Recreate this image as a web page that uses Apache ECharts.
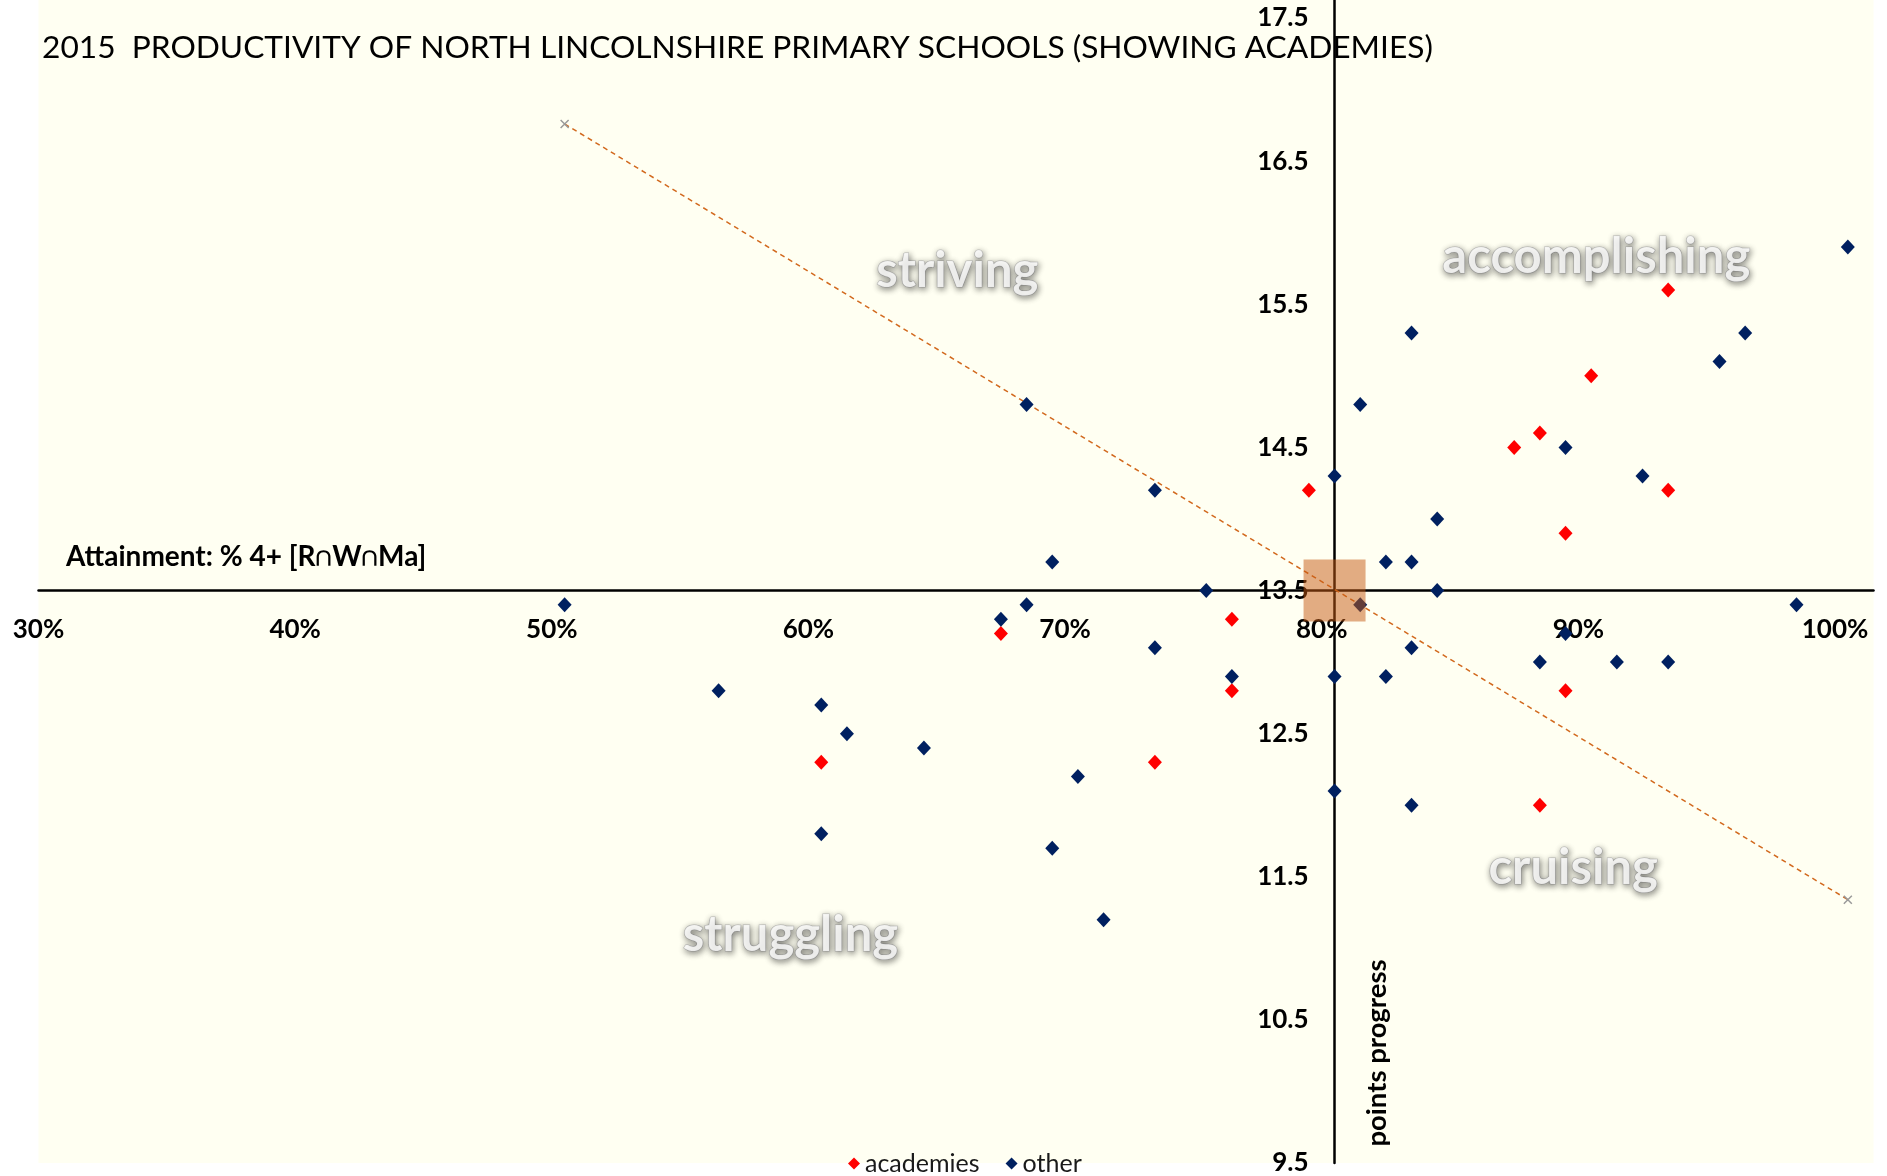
<!DOCTYPE html>
<html>
<head>
<meta charset="utf-8">
<script src="https://cdn.jsdelivr.net/npm/echarts@6/dist/echarts.min.js"></script>
<style>
html,body{margin:0;padding:0;background:#ffffff;}
#chart{width:1887px;height:1176px;}
</style>
</head>
<body>
<div id="chart"></div>
<script>
// ---------- data ----------
const titleText = '2015  PRODUCTIVITY OF NORTH LINCOLNSHIRE PRIMARY SCHOOLS (SHOWING ACADEMIES)';
const xAxisTitle = 'Attainment: % 4+ [R\u2229W\u2229Ma]';
const yAxisTitle = 'points progress';
const seriesNames = ['academies', 'other'];

// academies: attainment (fraction) and points progress
const academiesX = [0.60, 0.67, 0.73, 0.76, 0.76, 0.79, 0.87, 0.88, 0.88, 0.89, 0.89, 0.90, 0.93, 0.93];
const academiesY = [12.3, 13.2, 12.3, 13.3, 12.8, 14.2, 14.5, 14.6, 12.0, 13.9, 12.8, 15.0, 15.6, 14.2];

// other schools
const otherX = [0.50, 0.56, 0.60, 0.61, 0.60, 0.64, 0.67, 0.68, 0.68, 0.69,
                0.69, 0.70, 0.71, 0.73, 0.73, 0.75, 0.76, 0.80, 0.80, 0.80,
                0.81, 0.81, 0.82, 0.82, 0.83, 0.83, 0.83, 0.83, 0.84, 0.84,
                0.88, 0.89, 0.89, 0.91, 0.92, 0.93, 0.95, 0.96, 0.98, 1.00];
const otherY = [13.4, 12.8, 12.7, 12.5, 11.8, 12.4, 13.3, 13.4, 14.8, 13.7,
                11.7, 12.2, 11.2, 14.2, 13.1, 13.5, 12.9, 14.3, 12.9, 12.1,
                14.8, 13.4, 13.7, 12.9, 15.3, 13.7, 13.1, 12.0, 14.0, 13.5,
                13.0, 14.5, 13.2, 13.0, 14.3, 13.0, 15.1, 15.3, 13.4, 15.9];

// trend line end points
const trendX = [0.50, 1.00];
const trendY = [16.76, 11.34];

// quadrant crossing (national benchmark)
const crossX = 0.80;
const crossY = 13.5;

// quadrant labels
const quadrantNames = ['striving', 'accomplishing', 'cruising', 'struggling'];
const quadrantX = [0.653, 0.902, 0.893, 0.588];
const quadrantY = [15.73, 15.83, 11.56, 11.09];

// axis ranges / ticks
const xMin = 0.295, xMax = 1.01, xInterval = 0.1;
const yMin = 9.5, yMax = 17.626, yInterval = 1;

// ---------- layout ----------
const W = 1887, H = 1176;
const gridLeft = 38.5, gridRight = 13.5, gridTop = 0, gridBottom = 12;
const gridW = W - gridLeft - gridRight;
const gridH = H - gridTop - gridBottom;
const xAxisOffset = -gridH * (crossY - yMin) / (yMax - yMin);
const yAxisOffset = -gridW * (crossX - xMin) / (xMax - xMin);

const FONT = 'Lato, "Open Sans", sans-serif';

const zip = (xs, ys) => xs.map((x, i) => [x, ys[i]]);

const chart = echarts.init(document.getElementById('chart'), null, {renderer: 'canvas'});

const option = {
  animation: false,
  backgroundColor: '#ffffff',
  grid: {
    left: gridLeft, right: gridRight, top: gridTop, bottom: gridBottom,
    show: true, backgroundColor: '#FFFFF2', borderWidth: 0
  },
  legend: {
    data: seriesNames,
    left: 843, top: 1146,
    icon: 'diamond',
    itemWidth: 12, itemHeight: 12, itemGap: 26,
    textStyle: {fontFamily: FONT, fontSize: 25, color: '#1a1a1a'}
  },
  xAxis: {
    type: 'value', min: xMin, max: xMax, interval: xInterval,
    position: 'bottom', offset: xAxisOffset,
    axisLine: {onZero: false, lineStyle: {color: '#000', width: 2.5}},
    axisTick: {show: false},
    splitLine: {show: false},
    axisLabel: {
      margin: 27, showMaxLabel: false,
      fontFamily: FONT, fontWeight: 'bold', fontSize: 26, color: '#000',
      formatter: v => Math.round(v * 100 + 1e-6) + '%'
    }
  },
  yAxis: {
    type: 'value', min: yMin, max: yMax, interval: yInterval,
    position: 'left', offset: yAxisOffset,
    axisLine: {onZero: false, lineStyle: {color: '#000', width: 2.5}},
    axisTick: {show: false},
    splitLine: {show: false},
    axisLabel: {
      margin: 26, showMaxLabel: false,
      fontFamily: FONT, fontWeight: 'bold', fontSize: 26, color: '#000',
      formatter: v => v.toFixed(1)
    }
  },
  series: [
    {
      name: 'trend', type: 'line', z: 2,
      data: zip(trendX, trendY),
      lineStyle: {color: '#D2691E', width: 1.5, type: [5, 4]},
      symbol: 'path://M0,0L10,10M10,0L0,10', symbolSize: 8, showSymbol: true,
      itemStyle: {color: 'rgba(0,0,0,0)', borderColor: '#9a9a9a', borderWidth: 1.5},
      silent: true
    },
    {
      name: 'academies', type: 'scatter', z: 3,
      data: zip(academiesX, academiesY),
      symbol: 'diamond', symbolSize: [14, 15],
      itemStyle: {color: '#FF0000', opacity: 1}
    },
    {
      name: 'other', type: 'scatter', z: 3,
      data: zip(otherX, otherY),
      symbol: 'diamond', symbolSize: [14, 15],
      itemStyle: {color: '#002060', opacity: 1}
    },
    {
      name: 'benchmark', type: 'scatter', z: 4,
      data: [[crossX, crossY]],
      symbol: 'rect', symbolSize: 62,
      itemStyle: {color: 'rgba(197,90,17,0.5)', opacity: 1},
      silent: true
    },
    {
      name: 'quadrants', type: 'scatter', z: 5,
      data: quadrantNames.map((n, i) => ({name: n, value: [quadrantX[i], quadrantY[i]]})),
      symbolSize: 0,
      silent: true,
      label: {
        show: true, position: 'inside', formatter: '{b}',
        fontFamily: FONT, fontWeight: 'bold', fontSize: 49, color: '#ffffff',
        textBorderColor: 'rgba(175,175,175,0.9)', textBorderWidth: 1.2,
        textShadowColor: 'rgba(0,0,0,0.6)', textShadowBlur: 6,
        textShadowOffsetX: 1, textShadowOffsetY: 2
      }
    }
  ],
  graphic: [
    {
      type: 'text', left: 42, top: 32, z: 10,
      style: {text: titleText, fontFamily: FONT, fontSize: 31.7, fill: '#000'}
    },
    {
      type: 'text', left: 66, top: 543, z: 10,
      style: {text: xAxisTitle, fontFamily: FONT, fontWeight: 'bold', fontSize: 28, fill: '#000'}
    },
    {
      type: 'text', x: 1377, y: 1053, rotation: Math.PI / 2, z: 10,
      style: {text: yAxisTitle, fontFamily: FONT, fontWeight: 'bold', fontSize: 27.5, fill: '#000',
              align: 'center', verticalAlign: 'middle'}
    }
  ]
};
chart.setOption(option);
</script>
</body>
</html>
